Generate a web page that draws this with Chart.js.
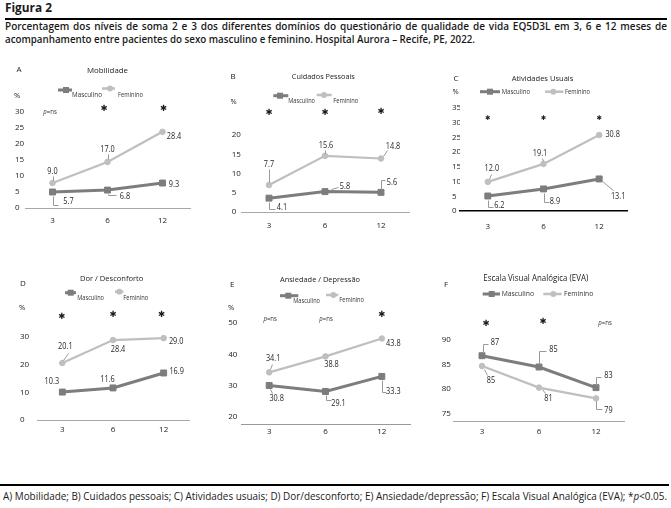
<!DOCTYPE html>
<html><head><meta charset="utf-8">
<script src="https://cdn.jsdelivr.net/npm/chart.js@4.4.1/dist/chart.umd.min.js"></script>
<style>
html,body{margin:0;padding:0;background:#fff;}
body{width:671px;height:508px;position:relative;overflow:hidden;font-family:"Open Sans",sans-serif;color:#1a1a1a;}
canvas{position:absolute;left:0;top:0;}
.t{position:absolute;white-space:nowrap;line-height:1;transform-origin:0 50%;}
.rule{position:absolute;background:#000;}
</style></head><body>
<div class="t" id="fig" style="left:5px;top:2px;font-weight:700;font-size:11.5px;">Figura 2</div>
<div class="rule" style="left:5px;top:18px;width:662px;height:2px;"></div>
<div class="t" id="cap1" style="left:5px;top:21px;font-size:10px;font-weight:600;">Porcentagem dos níveis de soma 2 e 3 dos diferentes domínios do questionário de qualidade de vida EQ5D3L em 3, 6 e 12 meses de</div>
<div class="t" id="cap2" style="left:5px;top:34px;font-size:10px;font-weight:600;">acompanhamento entre pacientes do sexo masculino e feminino. Hospital Aurora – Recife, PE, 2022.</div>
<div class="rule" style="left:0px;top:484px;width:669px;height:2px;"></div>
<div class="t" id="foot" style="left:3px;top:491px;font-size:10px;">A) Mobilidade; B) Cuidados pessoais; C) Atividades usuais; D) Dor/desconforto; E) Ansiedade/depressão; F) Escala Visual Analógica (EVA); *<i>p</i>&lt;0.05.</div>
<script>
// ---------- DATA ----------
const months = ['3', '6', '12'];

const mobMasc = [5.0, 5.6, 7.8];
const mobFem = [7.8, 14.4, 23.8];
const mobMascLbl = ['5.7', '6.8', '9.3'];
const mobFemLbl = ['9.0', '17.0', '28.4'];
const mobTicks = [0, 5, 10, 15, 20, 25, 30];
const mobSig = ['p=ns', '*', '*'];

const cuiMasc = [3.6, 5.3, 5.1];
const cuiFem = [7.0, 14.6, 13.9];
const cuiMascLbl = ['4.1', '5.8', '5.6'];
const cuiFemLbl = ['7.7', '15.6', '14.8'];
const cuiTicks = [0, 5, 10, 15, 20];
const cuiSig = ['*', '*', '*'];

const atiMasc = [5.1, 7.5, 10.9];
const atiFem = [9.9, 16.0, 25.8];
const atiMascLbl = ['6.2', '8.9', '13.1'];
const atiFemLbl = ['12.0', '19.1', '30.8'];
const atiTicks = [0, 5, 10, 15, 20, 25, 30, 35];
const atiSig = ['*', '*', '*'];

const dorMasc = [10.1, 11.6, 17.0];
const dorFem = [20.6, 28.9, 29.6];
const dorMascLbl = ['10.3', '11.6', '16.9'];
const dorFemLbl = ['20.1', '28.4', '29.0'];
const dorTicks = [0, 10, 20, 30];
const dorSig = ['*', '*', '*'];

const ansMasc = [30.1, 28.2, 33.0];
const ansFem = [34.3, 39.4, 45.1];
const ansMascLbl = ['30.8', '29.1', '33.3'];
const ansFemLbl = ['34.1', '38.8', '43.8'];
const ansTicks = [20, 30, 40, 50];
const ansSig = ['p=ns', 'p=ns', '*'];

const evaMasc = [86.8, 84.5, 80.3];
const evaFem = [84.7, 80.3, 78.1];
const evaMascLbl = ['87', '85', '83'];
const evaFemLbl = ['85', '81', '79'];
const evaTicks = [75, 80, 85, 90];
const evaSig = ['*', '*', 'p=ns'];

const seriesNames = ['Masculino', 'Feminino'];

// ---------- HEADER / FOOTER FIT ----------
function fitEl(id, w, justify) {
  const el = document.getElementById(id);
  const nat = el.getBoundingClientRect().width;
  if (justify) {
    const n = (el.textContent.match(/ /g) || []).length;
    el.style.wordSpacing = ((w - nat) / n) + 'px';
  } else {
    el.style.transform = 'scaleX(' + (w / nat) + ')';
  }
}
fitEl('fig', 47);
fitEl('cap1', 662, true);
fitEl('cap2', 470);
fitEl('foot', 664);

// ---------- STYLE ----------
const MASC = '#7d7d7d';
const FEM = '#bfbfbf';
Chart.defaults.font.family = '"Open Sans", sans-serif';
Chart.defaults.color = '#222';

const panels = [
  { masc: mobMasc, fem: mobFem, mascLbl: mobMascLbl, femLbl: mobFemLbl, ticks: mobTicks, sig: mobSig,
    left: 25, right: 190, top: 112, bottom: 208, min: 0, max: 30, labelLeft: 15, xPad: 8,
    axisColor: '#a8a8a8', axisW: 1,
    letter: ['A', 16.5, 70], title: ['Mobilidade', 107.5, 71, 41, 8], pct: [14, 96],
    leg: { size: 6.5, m: [58, 72, 90, 66, 72, 95, 30], f: [102, 115, 88.5, 110, 118, 95, 25] },
    sigDx: [-2.5, -3.5, 1], sigY: [111.7, 108.3, 108.3], sigSize: 8.5,
    mascOff: [[16, 10], [17.5, 6], [11.5, 2]], femOff: [[0, -11], [0, -12], [11.5, 5]],
    mascLead: [[[0, 4], [0, 13], [5, 13]], [[0, 4], [0, 5], [8, 5]], null],
    femLead: [[[0, -3], [0, -7]], [[0, -3], [0, -8]], null] },
  { masc: cuiMasc, fem: cuiFem, mascLbl: cuiMascLbl, femLbl: cuiFemLbl, ticks: cuiTicks, sig: cuiSig,
    left: 241, right: 409, top: 135, bottom: 212, min: 0, max: 20, labelLeft: 231.7, xPad: 9,
    axisColor: '#a8a8a8', axisW: 1,
    letter: ['B', 230.5, 76.7], title: ['Cuidados Pessoais', 323.3, 76.7, 63, 8], pct: [230.5, 101.7],
    leg: { size: 6.5, m: [273.3, 288.3, 95.7, 280, 288.3, 100.7, 26.7], f: [316.7, 331.7, 95, 324, 333.3, 100.7, 25] },
    sigDx: [0, 0, 0], sigY: [112.3, 112.3, 111.7], sigSize: 8.5,
    mascOff: [[13, 9.5], [20, -5], [11, -10]], femOff: [[0, -20], [1, -10], [12, -12]],
    mascLead: [[[0, 4], [0, 11], [6, 11]], [[6, -3], [13, -5]], [[0, -3], [0, -12], [4, -12]]],
    femLead: [[[0, -3], [0, -16]], [[0, -3], [0, -6]], [[2, -2], [6, -8]]] },
  { masc: atiMasc, fem: atiFem, mascLbl: atiMascLbl, femLbl: atiFemLbl, ticks: atiTicks, sig: atiSig,
    left: 460, right: 627, top: 108, bottom: 211, min: 0, max: 35, labelLeft: 452, xPad: 11,
    axisColor: '#000', axisW: 1.5,
    letter: ['C', 453.5, 78.3], title: ['Atividades Usuais', 542.5, 78.3, 61.7, 8], pct: [452.5, 92.3],
    leg: { size: 6.5, m: [480, 500, 91.7, 490, 501.7, 91.7, 28.3], f: [545, 563.3, 91.7, 553.3, 565, 91.7, 25] },
    sigDx: [0, 0, 0], sigY: [118.3, 118.3, 118.3], sigSize: 6.5,
    mascOff: [[11.5, 10], [11.5, 12.8], [19, 18]], femOff: [[4, -13.5], [-3.5, -10.5], [13.5, 0]],
    mascLead: [[[0, 4], [0, 11], [5, 11]], [[0, 4], [0, 13], [5, 13]], [[3, 2], [14, 11]]],
    femLead: [[[1, -3], [3, -8]], [[-1, -3], [-2, -6]], null] },
  { masc: dorMasc, fem: dorFem, mascLbl: dorMascLbl, femLbl: dorFemLbl, ticks: dorTicks, sig: dorSig,
    left: 37, right: 189, top: 331.5, bottom: 420, min: 0, max: 32, labelLeft: 20, xPad: 5,
    axisColor: '#a8a8a8', axisW: 1,
    letter: ['D', 20, 283.3], title: ['Dor / Desconforto', 111.7, 279, 63.3, 8], pct: [19, 308.3],
    leg: { size: 6.5, m: [65, 76, 292.7, 70.7, 77.3, 297.7, 26.7], f: [115, 123.3, 291.7, 119.3, 123.3, 297.7, 25] },
    sigDx: [-0.5, 0, -2], sigY: [316.7, 314.3, 314.3], sigSize: 8.5,
    mascOff: [[-10.5, -10.5], [-5.5, -8.5], [13, -1]], femOff: [[3, -16], [5, 10], [12.5, 3.5]],
    mascLead: [null, null, null],
    femLead: [[[1, -3], [6, -10]], null, null] },
  { masc: ansMasc, fem: ansFem, mascLbl: ansMascLbl, femLbl: ansFemLbl, ticks: ansTicks, sig: ansSig,
    left: 241, right: 410, top: 323.2, bottom: 424, min: 17.8, max: 50, labelLeft: 228.3, xPad: 3,
    axisColor: '#999', axisW: 1,
    letter: ['E', 230, 285], title: ['Ansiedade / Depressão', 320, 280, 80, 8], pct: [228, 308.3],
    leg: { size: 6.5, m: [280, 298.3, 295.7, 288.3, 293.3, 301, 26.7], f: [326, 338.3, 295, 333.3, 339.3, 300, 24.7] },
    sigDx: [1, 0.5, 0], sigY: [319, 319, 315], sigSize: 8.5,
    mascOff: [[7.5, 13.5], [13, 12], [11.5, 15.5]], femOff: [[4, -13.5], [6, 8], [11.5, 5]],
    mascLead: [[[1, 4], [3, 8]], [[0, 4], [0, 9], [5, 9]], [[0, 4], [0, 16], [4, 16]]],
    femLead: [[[1, -3], [3, -8]], null, null] },
  { masc: evaMasc, fem: evaFem, mascLbl: evaMascLbl, femLbl: evaFemLbl, ticks: evaTicks, sig: evaSig,
    left: 453.5, right: 624.5, top: 340, bottom: 421, min: 73.5, max: 90, labelLeft: 441.7, xPad: 6,
    axisColor: '#a8a8a8', axisW: 1,
    letter: ['F', 444, 284.3], title: ['Escala Visual Analógica (EVA)', 535.8, 278.3, 105, 9], pct: null,
    leg: { size: 8, m: [482.7, 500, 294, 491.7, 501.7, 294, 32.3], f: [543.3, 561.7, 294, 553.3, 564, 294, 29.3] },
    sigDx: [4, 4, 9], sigY: [323.3, 321.7, 323.3], sigSize: 8.5,
    mascOff: [[13, -13.5], [14.5, -17], [12.5, -12.5]], femOff: [[9, 15], [9.5, 10.5], [12.5, 12.5]],
    mascLead: [[[1, -3], [1, -12], [6, -12]], [[0, -3], [0, -16], [7, -16]], [[0, -3], [0, -11], [5, -11]]],
    femLead: [[[2, 3], [5, 9]], [[3, 1], [6, 5]], [[0, 3], [0, 11], [6, 11]]] }
];

function txt(ctx, s, x, y, o) {
  ctx.save();
  ctx.font = (o.style || 'normal') + ' ' + (o.weight || 400) + ' ' + o.size + 'px ' + (o.family || '"Open Sans", sans-serif');
  ctx.fillStyle = o.color || '#333';
  ctx.textBaseline = 'middle';
  ctx.textAlign = 'left';
  const w = ctx.measureText(s).width;
  const sx = o.width ? o.width / w : (o.sx || 1);
  const align = o.align || 'center';
  const left = align === 'left' ? x : (align === 'right' ? x - w * sx : x - w * sx / 2);
  ctx.translate(left, y);
  ctx.scale(sx, 1);
  ctx.fillText(s, 0, 0);
  ctx.restore();
}

function drawPns(ctx, x, y, w) {
  ctx.save();
  ctx.font = 'italic 400 7px "Open Sans", sans-serif';
  const w1 = ctx.measureText('p').width;
  ctx.font = 'normal 400 7px "Open Sans", sans-serif';
  const w2 = ctx.measureText('=ns').width;
  const sx = w / (w1 + w2);
  ctx.restore();
  const left = x - w / 2;
  txt(ctx, 'p', left, y, { size: 7, style: 'italic', align: 'left', sx: sx, color: '#333' });
  txt(ctx, '=ns', left + w1 * sx, y, { size: 7, align: 'left', sx: sx, color: '#333' });
}

function annot(P) {
  return {
    id: 'annot',
    afterDatasetsDraw(chart) {
      const ctx = chart.ctx, xs = chart.scales.x, ys = chart.scales.y;
      const groups = [[P.masc, P.mascLbl, P.mascOff, P.mascLead], [P.fem, P.femLbl, P.femOff, P.femLead]];
      groups.forEach(([vals, lbls, offs, leads]) => {
        vals.forEach((v, i) => {
          const px = xs.getPixelForValue(i), py = ys.getPixelForValue(v);
          const ld = leads && leads[i];
          if (ld) {
            ctx.save();
            ctx.strokeStyle = '#999';
            ctx.lineWidth = 1;
            ctx.beginPath();
            ld.forEach((p, j) => {
              const X = Math.round(px + p[0]) + 0.5, Y = Math.round(py + p[1]) + 0.5;
              if (j) ctx.lineTo(X, Y); else ctx.moveTo(X, Y);
            });
            ctx.stroke();
            ctx.restore();
          }
          txt(ctx, lbls[i], px + offs[i][0], py + offs[i][1], { size: 8.5, color: '#262626', sx: 0.86 });
        });
      });
      // panel letter, title, % sign
      txt(ctx, P.letter[0], P.letter[1], P.letter[2], { size: 8, align: 'left', color: '#222' });
      txt(ctx, P.title[0], P.title[1], P.title[2], { size: P.title[4], width: P.title[3], color: '#222' });
      if (P.pct) txt(ctx, '%', P.pct[0], P.pct[1], { size: 7.5, align: 'left', color: '#222' });
      // legend
      const L = P.leg;
      [[L.m, MASC, 3, 'rect', seriesNames[0]], [L.f, FEM, 2.5, 'circle', seriesNames[1]]].forEach(([g, col, lw, shape, name]) => {
        ctx.save();
        ctx.strokeStyle = col; ctx.lineWidth = lw;
        ctx.beginPath(); ctx.moveTo(g[0], g[2]); ctx.lineTo(g[1], g[2]); ctx.stroke();
        ctx.fillStyle = col;
        if (shape === 'rect') ctx.fillRect(g[3] - 3, g[2] - 3, 6, 6);
        else { ctx.beginPath(); ctx.arc(g[3], g[2], 3, 0, Math.PI * 2); ctx.fill(); }
        ctx.restore();
        txt(ctx, name, g[4], g[5], { size: L.size, align: 'left', width: g[6], color: '#333' });
      });
      // significance marks
      P.sig.forEach((s, i) => {
        const x = xs.getPixelForValue(i) + P.sigDx[i];
        if (s === '*') txt(ctx, '\u2731', x, P.sigY[i], { size: P.sigSize, family: '"DejaVu Sans", sans-serif', color: '#1a1a1a' });
        else drawPns(ctx, x, P.sigY[i], 13.5);
      });
    }
  };
}

panels.forEach(P => {
  const c = document.createElement('canvas');
  c.width = 671; c.height = 508;
  c.style.width = '671px'; c.style.height = '508px';
  document.body.appendChild(c);
  const yW = P.left - P.labelLeft;
  new Chart(c, {
    type: 'line',
    data: {
      labels: months,
      datasets: [
        { label: seriesNames[0], data: P.masc, borderColor: MASC, backgroundColor: MASC, borderWidth: 3,
          pointStyle: 'rect', pointRadius: 4.2, pointBorderWidth: 1, pointBorderColor: MASC, pointBackgroundColor: MASC, tension: 0 },
        { label: seriesNames[1], data: P.fem, borderColor: FEM, backgroundColor: FEM, borderWidth: 2.2,
          pointStyle: 'circle', pointRadius: 2.8, pointBorderWidth: 1, pointBorderColor: FEM, pointBackgroundColor: FEM, tension: 0 }
      ]
    },
    options: {
      responsive: false, animation: false, devicePixelRatio: 1,
      layout: { padding: { left: P.labelLeft, top: P.top, right: 671 - P.right, bottom: 508 - P.bottom - 30 } },
      plugins: { legend: { display: false }, title: { display: false }, tooltip: { enabled: false } },
      scales: {
        x: {
          type: 'category', offset: true,
          grid: { display: false, drawTicks: false },
          border: { display: true, color: P.axisColor, width: P.axisW },
          ticks: { padding: P.xPad, font: { size: 8 }, color: '#222', maxRotation: 0, autoSkip: false },
          afterFit(s) { s.height = 30; }
        },
        y: {
          type: 'linear', min: P.min, max: P.max,
          grid: { display: false, drawTicks: false },
          border: { display: false },
          ticks: { crossAlign: 'far', padding: 2, font: { size: 8 }, color: '#222' },
          afterBuildTicks(s) { s.ticks = P.ticks.map(v => ({ value: v })); },
          afterFit(s) { s.width = yW; }
        }
      }
    },
    plugins: [annot(P)]
  });
});
</script>
</body></html>
